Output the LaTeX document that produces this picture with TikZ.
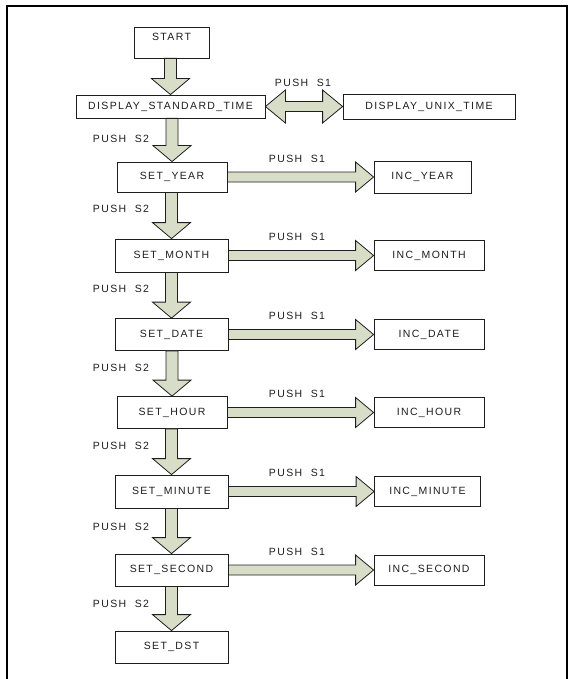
\documentclass[tikz,border=0pt]{standalone}
\usepackage{fontspec}
\setmainfont{Liberation Sans}[LetterSpace=13.0]
\usetikzlibrary{calc}
\definecolor{arrowfill}{RGB}{216,221,200}
\definecolor{ink}{RGB}{30,30,30}
\tikzset{
  statebox/.style={draw=ink, line width=0.8pt, fill=white, inner sep=0pt, font=\fontsize{10.5}{12}\selectfont, text=ink},
  lbl/.style={inner sep=0pt, font=\fontsize{10.5}{12}\selectfont, text=ink},
  fatarrow/.style={draw=ink, line width=0.8pt, fill=arrowfill, line join=miter}
}
\newcommand\varrow[2]{%
  \draw[fatarrow] let \p1=(#1.south), \p2=(#2.north) in
    (\x2-6pt,\y1) -- (\x2-6pt,\y2+16pt) -- (\x2-19pt,\y2+16pt) -- (\x2,\y2)
    -- (\x2+19pt,\y2+16pt) -- (\x2+6pt,\y2+16pt) -- (\x2+6pt,\y1) -- cycle;}
\newcommand\harrow[2]{%
  \draw[fatarrow] let \p1=(#1.east), \p2=(#2.west) in
    (\x1,\y1+5pt) -- (\x2-18pt,\y1+5pt) -- (\x2-18pt,\y1+15pt) -- (\x2,\y1)
    -- (\x2-18pt,\y1-15pt) -- (\x2-18pt,\y1-5pt) -- (\x1,\y1-5pt) -- cycle;}
\begin{document}
\begin{tikzpicture}[x=1pt,y=-1pt]
\useasboundingbox (0,0) rectangle (573,679);
% frame
\draw[line width=2pt, black] (6.5,679) -- (6.5,6.5) -- (567,6.5) -- (567,679);
% main column
\node[statebox, minimum width=75pt, minimum height=31pt, text height=7.5pt, text depth=12pt] (start) at (171.5,42.5) {START};
\node[statebox, minimum width=189pt, minimum height=23pt] (dst) at (170.5,106.5) {DISPLAY\_STANDARD\_TIME};
\node[statebox, minimum width=172pt, minimum height=25pt] (dut) at (429,106.5) {DISPLAY\_UNIX\_TIME};
\node[statebox, minimum width=110pt, minimum height=30pt] (year) at (172,177) {SET\_YEAR};
\node[statebox, minimum width=113pt, minimum height=33pt] (month) at (171.5,255.5) {SET\_MONTH};
\node[statebox, minimum width=113pt, minimum height=32pt] (date) at (171.5,334.5) {SET\_DATE};
\node[statebox, minimum width=110pt, minimum height=32pt] (hour) at (172,412.5) {SET\_HOUR};
\node[statebox, minimum width=113pt, minimum height=33pt] (minute) at (171.5,491.5) {SET\_MINUTE};
\node[statebox, minimum width=113pt, minimum height=32pt] (second) at (171.5,570) {SET\_SECOND};
\node[statebox, minimum width=113pt, minimum height=32pt] (dsttime) at (171.5,647) {SET\_DST};
% inc column
\node[statebox, minimum width=97pt, minimum height=32pt] (iyear) at (422.5,177) {INC\_YEAR};
\node[statebox, minimum width=110pt, minimum height=30pt] (imonth) at (429,255.5) {INC\_MONTH};
\node[statebox, minimum width=110pt, minimum height=30pt] (idate) at (429,334.5) {INC\_DATE};
\node[statebox, minimum width=110pt, minimum height=30pt] (ihour) at (429,412.5) {INC\_HOUR};
\node[statebox, minimum width=106pt, minimum height=30pt] (iminute) at (427.5,491.5) {INC\_MINUTE};
\node[statebox, minimum width=110pt, minimum height=30pt] (isecond) at (429,570) {INC\_SECOND};
% vertical arrows
\varrow{start}{dst}
\varrow{dst}{year}
\varrow{year}{month}
\varrow{month}{date}
\varrow{date}{hour}
\varrow{hour}{minute}
\varrow{minute}{second}
\varrow{second}{dsttime}
% horizontal arrows
\harrow{year}{iyear}
\harrow{month}{imonth}
\harrow{date}{idate}
\harrow{hour}{ihour}
\harrow{minute}{iminute}
\harrow{second}{isecond}
% double arrow
\draw[fatarrow] let \p1=(dst.east), \p2=(dut.west) in
  (\x1,\y1) -- (\x1+20pt,\y1+16.5pt) -- (\x1+20pt,\y1+5pt) -- (\x2-20pt,\y1+5pt)
  -- (\x2-20pt,\y1+16.5pt) -- (\x2,\y1) -- (\x2-20pt,\y1-16.5pt) -- (\x2-20pt,\y1-5pt)
  -- (\x1+20pt,\y1-5pt) -- (\x1+20pt,\y1-16.5pt) -- cycle;
% labels
\node[lbl] (l0) at (303,83) {PUSH\ \ S1};
\node[lbl] (s1) at (121,139) {PUSH\ \ S2};
\node[lbl] (s2) at (121,209) {PUSH\ \ S2};
\node[lbl] (s3) at (121,289) {PUSH\ \ S2};
\node[lbl] (s4) at (121,368) {PUSH\ \ S2};
\node[lbl] (s5) at (121,446) {PUSH\ \ S2};
\node[lbl] (s6) at (121,527) {PUSH\ \ S2};
\node[lbl] (s7) at (121,604) {PUSH\ \ S2};
\node[lbl] (p1) at (297,159) {PUSH\ \ S1};
\node[lbl] (p2) at (297,237) {PUSH\ \ S1};
\node[lbl] (p3) at (297,316) {PUSH\ \ S1};
\node[lbl] (p4) at (297,394) {PUSH\ \ S1};
\node[lbl] (p5) at (297,473) {PUSH\ \ S1};
\node[lbl] (p6) at (297,552) {PUSH\ \ S1};
\end{tikzpicture}
\end{document}
